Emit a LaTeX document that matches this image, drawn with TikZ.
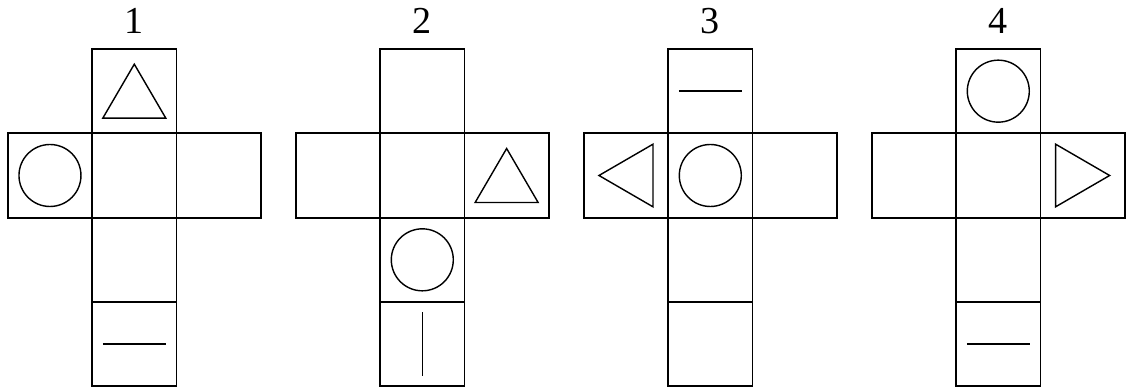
\documentclass[tikz,border=0pt]{standalone}
\usepackage{fontspec}
\setmainfont{Liberation Serif}
\usetikzlibrary{positioning}

\begin{document}
\begin{tikzpicture}[x=0.0249cm, y=-0.0249cm,
        face/.style={rectangle, draw, line width=1.3pt, minimum size=2.1cm,
                     inner sep=0pt, outer sep=0pt},
        sym/.style={line width=1pt},
        netlbl/.style={font=\fontsize{27}{30}\selectfont, inner sep=0pt}
      ]
        \useasboundingbox (0,0) rectangle (1127,392);
        % four nets of a cube
        \foreach \k in {1,...,4}{
          \pgfmathsetmacro{\cx}{134.3+288*(\k-1)}
          \node[face] (n\k-c) at (\cx,175.5) {};
          \node[face, above=0pt of n\k-c] (n\k-t) {};
          \node[face, left=0pt of n\k-c] (n\k-l) {};
          \node[face, right=0pt of n\k-c] (n\k-r) {};
          \node[face, below=0pt of n\k-c] (n\k-b) {};
          \node[face, below=0pt of n\k-b] (n\k-bb) {};
          \node[netlbl] (lbl\k) at (\cx,21.3) {\k};
        }
        % net 1
        \draw[sym, shift={(n1-t)}] (0,-27) -- (-31.5,27) -- (31.5,27) -- cycle;
        \draw[sym] (n1-l) circle[radius=31];
        \draw[sym, shift={(n1-bb)}] (-31.5,0) -- (31.5,0);
        % net 2
        \draw[sym, shift={(n2-r)}] (0,-27) -- (-31.5,27) -- (31.5,27) -- cycle;
        \draw[sym] (n2-b) circle[radius=31];
        \draw[sym, shift={(n2-bb)}] (0,-31.7) -- (0,31.7);
        % net 3
        \draw[sym, shift={(n3-t)}] (-31.5,0) -- (31.5,0);
        \draw[sym, shift={(n3-l)}] (-27,0) -- (27,-31.3) -- (27,31.3) -- cycle;
        \draw[sym] (n3-c) circle[radius=31];
        % net 4
        \draw[sym] (n4-t) circle[radius=31];
        \draw[sym, shift={(n4-r)}] (27,0) -- (-27,-31.3) -- (-27,31.3) -- cycle;
        \draw[sym, shift={(n4-bb)}] (-31.5,0) -- (31.5,0);
      \end{tikzpicture}
\end{document}
